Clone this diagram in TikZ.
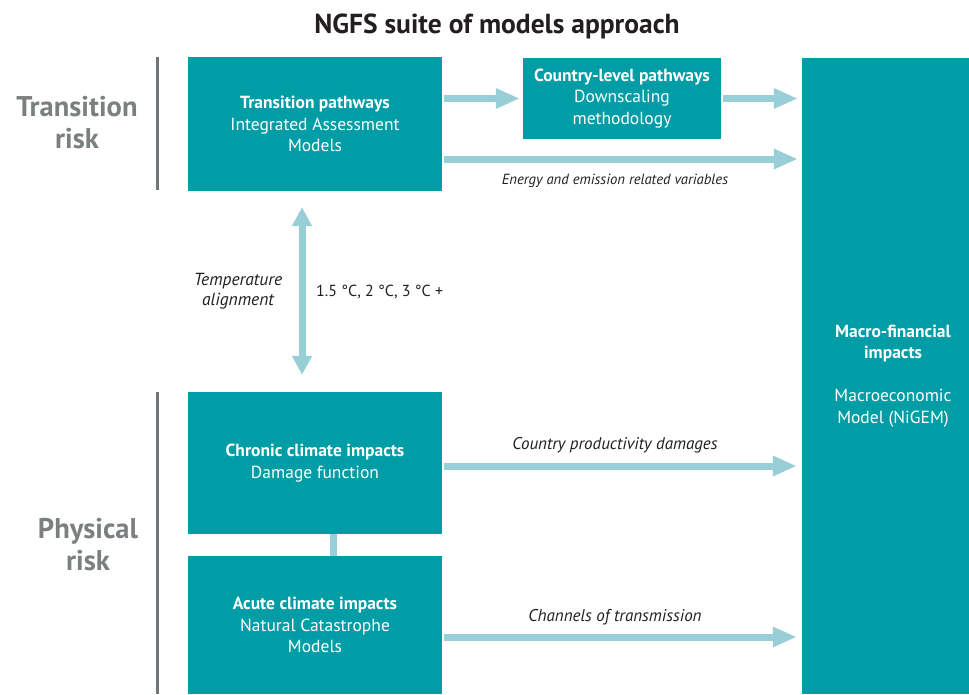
\documentclass[tikz,border=0pt]{standalone}
\usepackage{fontspec}
\setmainfont{PT Sans}
\usetikzlibrary{arrows.meta,calc}
\definecolor{ngteal}{RGB}{0,157,166}
\definecolor{ngarrow}{RGB}{152,207,214}
\definecolor{nggray}{RGB}{112,117,119}
\definecolor{ngrisk}{RGB}{122,127,128}
\definecolor{ngtext}{RGB}{35,31,32}
\begin{document}
\begin{tikzpicture}[x=1pt,y=-1pt,
  box/.style={fill=ngteal, draw=none, text=white, align=center, inner sep=0pt,
    font=\fontsize{17.5}{21.5}\selectfont},
  risk/.style={text=ngrisk, align=center, font=\fontsize{28.5}{32}\selectfont\bfseries},
  lbl/.style={text=ngtext, align=center, font=\fontsize{17}{20}\selectfont\itshape},
  divider/.style={draw=nggray, line width=3pt},
  flow/.style={draw=ngarrow, line width=7pt, -{Triangle[width=19pt,length=24pt]}},
  dflow/.style={draw=ngarrow, line width=7pt, {Triangle[width=19pt,length=19pt]}-{Triangle[width=19pt,length=19pt]}},
  link/.style={draw=ngarrow, line width=7pt}]
\useasboundingbox (0,0) rectangle (969,694);

% title
\node[text=ngtext, font=\fontsize{27.5}{32}\selectfont\bfseries] (title) at (497,26) {NGFS suite of models approach};

% side labels and dividers
\node[risk] (trisk) at (77,123) {Transition\\risk};
\node[risk] (prisk) at (88,545) {Physical\\risk};
\draw[divider] (157,57) -- (157,190);
\draw[divider] (157,392) -- (157,694);

% boxes
\node[box, minimum width=254pt, minimum height=134pt] (tp) at (315,124)
  {\textbf{Transition pathways}\\Integrated Assessment\\Models};
\node[box, minimum width=198pt, minimum height=81pt] (cl) at (622,98.5)
  {\textbf{Country-level pathways}\\Downscaling\\methodology};
\node[box, minimum width=254pt, minimum height=142pt] (cc) at (315,463)
  {\textbf{Chronic climate impacts}\\Damage function};
\node[box, minimum width=254pt, minimum height=138pt] (ac) at (315,625)
  {\textbf{Acute climate impacts}\\Natural Catastrophe\\Models};
\node[box, minimum width=167pt, minimum height=636pt] (mf) at (885.5,376) {};
\node[box] (mft) at (893,376)
  {\textbf{Macro-financial}\\\textbf{impacts}\\[21.5pt]Macroeconomic\\Model (NiGEM)};

% connectors
\coordinate (e1) at (444,159);
\coordinate (vx) at (333.5,0);
\draw[flow, shorten <=2pt, shorten >=3pt] (tp.east |- cl.west) -- (cl.west);
\draw[flow, shorten <=2pt, shorten >=4pt] (cl.east) -- (cl.east -| mf.west);
\draw[flow, shorten >=4pt] (e1) -- (e1 -| mf.west);
\draw[dflow] ($(tp.south)+(-13,16)$) -- ($(cc.north)+(-13,-17)$);
\draw[link] (cc.south -| vx) -- (ac.north -| vx);
\draw[flow, shorten <=2pt, shorten >=5pt] (cc.east |- 0,466) coordinate (c1) -- (c1 -| mf.west);
\draw[flow, shorten <=2pt, shorten >=5pt] (ac.east |- 0,637) coordinate (c2) -- (c2 -| mf.west);

% labels
\node[lbl, font=\fontsize{14.7}{18}\selectfont\itshape] (l1) at (615,181) {Energy and emission related variables};
\node[lbl, font=\fontsize{17.5}{20}\selectfont\itshape] (l2) at (238,291) {Temperature\\alignment};
\node[text=ngtext, anchor=west, inner sep=0pt, font=\fontsize{16}{20}\selectfont] (l3) at (316,292) {1.5 °C, 2 °C, 3 °C +};
\node[lbl] (l4) at (615,445) {Country productivity damages};
\node[lbl] (l5) at (615,617) {Channels of transmission};
\end{tikzpicture}
\end{document}
